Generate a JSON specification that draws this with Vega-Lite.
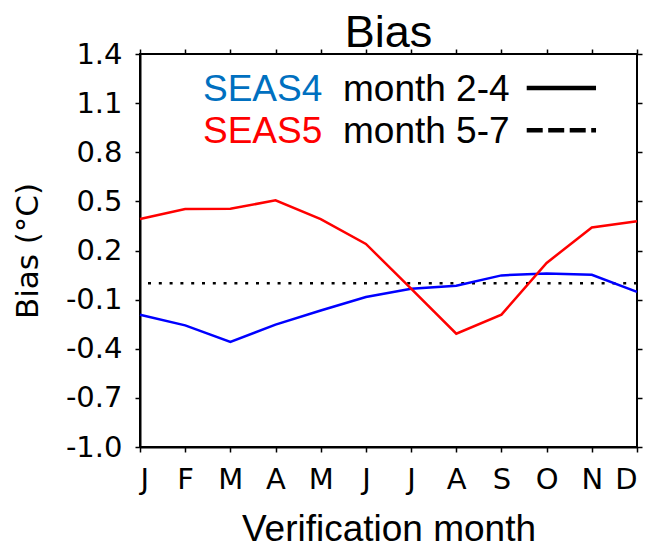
{
  "$schema": "https://vega.github.io/schema/vega-lite/v6.json",
  "width": 497,
  "height": 393,
  "autosize": {"type": "none"},
  "padding": {"left": 140, "top": 54, "right": 14, "bottom": 101},
  "background": "white",
  "title": {
    "text": "Bias",
    "font": "Liberation Sans",
    "fontSize": 45,
    "fontWeight": "normal",
    "color": "black",
    "anchor": "middle",
    "baseline": "alphabetic",
    "offset": 0,
    "dy": 52
  },
  "config": {
    "view": {"stroke": "black", "strokeWidth": 2},
    "axis": {
      "grid": false,
      "domainColor": "black",
      "domainWidth": 2,
      "tickColor": "black",
      "tickSize": 5,
      "tickWidth": 1.5,
      "labelFont": "DejaVu Sans",
      "labelFontSize": 29,
      "labelColor": "black",
      "titleColor": "black",
      "titleFontWeight": "normal"
    }
  },
  "datasets": {
    "bias": [
      {"m": 1, "model": "SEAS4", "bias": -0.192},
      {"m": 2, "model": "SEAS4", "bias": -0.257},
      {"m": 3, "model": "SEAS4", "bias": -0.359},
      {"m": 4, "model": "SEAS4", "bias": -0.253},
      {"m": 5, "model": "SEAS4", "bias": -0.166},
      {"m": 6, "model": "SEAS4", "bias": -0.084},
      {"m": 7, "model": "SEAS4", "bias": -0.034},
      {"m": 8, "model": "SEAS4", "bias": -0.015},
      {"m": 9, "model": "SEAS4", "bias": 0.048},
      {"m": 10, "model": "SEAS4", "bias": 0.060},
      {"m": 11, "model": "SEAS4", "bias": 0.052},
      {"m": 12, "model": "SEAS4", "bias": -0.053},
      {"m": 1, "model": "SEAS5", "bias": 0.392},
      {"m": 2, "model": "SEAS5", "bias": 0.454},
      {"m": 3, "model": "SEAS5", "bias": 0.455},
      {"m": 4, "model": "SEAS5", "bias": 0.506},
      {"m": 5, "model": "SEAS5", "bias": 0.392},
      {"m": 6, "model": "SEAS5", "bias": 0.240},
      {"m": 7, "model": "SEAS5", "bias": -0.033},
      {"m": 8, "model": "SEAS5", "bias": -0.308},
      {"m": 9, "model": "SEAS5", "bias": -0.192},
      {"m": 10, "model": "SEAS5", "bias": 0.124},
      {"m": 11, "model": "SEAS5", "bias": 0.341},
      {"m": 12, "model": "SEAS5", "bias": 0.378}
    ],
    "key": [
      {"model": "SEAS4", "lead": "month 2-4"},
      {"model": "SEAS5", "lead": "month 5-7"}
    ]
  },
  "layer": [
    {
      "data": {"values": [{"level": 0}]},
      "mark": {"type": "rule", "color": "black", "strokeWidth": 2.5, "strokeDash": [3, 7.8]},
      "encoding": {
        "y": {"field": "level", "type": "quantitative", "axis": null}
      }
    },
    {
      "data": {"name": "bias"},
      "mark": {"type": "line", "strokeWidth": 2.5},
      "encoding": {
        "x": {
          "field": "m",
          "type": "quantitative",
          "scale": {"domain": [1, 12], "nice": false, "zero": false},
          "axis": {
            "values": [1, 2, 3, 4, 5, 6, 7, 8, 9, 10, 11, 12],
            "labelExpr": "['J','F','M','A','M','J','J','A','S','O','N','D'][datum.value - 1]",
            "labelPadding": 13,
            "title": "Verification month",
            "titleFont": "Liberation Sans",
            "titleFontSize": 37,
            "titleBaseline": "alphabetic",
            "titleY": 93
          }
        },
        "y": {
          "field": "bias",
          "type": "quantitative",
          "scale": {"domain": [-1.0, 1.4], "nice": false, "zero": false},
          "axis": {
            "values": [-1.0, -0.7, -0.4, -0.1, 0.2, 0.5, 0.8, 1.1, 1.4],
            "labelExpr": "replace(format(datum.value, '.1f'), '−', '-')",
            "labelPadding": 13,
            "title": "Bias (°C)",
            "titleFont": "DejaVu Sans",
            "titleFontSize": 31,
            "titleAngle": -90,
            "titleBaseline": "alphabetic",
            "titleX": -103
          }
        },
        "color": {
          "field": "model",
          "type": "nominal",
          "scale": {"domain": ["SEAS4", "SEAS5"], "range": ["#0000FF", "#FF0000"]},
          "legend": null
        }
      }
    },
    {
      "data": {"name": "bias"},
      "mark": {"type": "line", "opacity": 0},
      "encoding": {
        "x": {
          "field": "m",
          "type": "quantitative",
          "axis": {"orient": "top", "values": [1, 2, 3, 4, 5, 6, 7, 8, 9, 10, 11, 12], "labels": false, "title": null, "domain": false}
        },
        "y": {
          "field": "bias",
          "type": "quantitative",
          "axis": {"orient": "right", "values": [-1.0, -0.7, -0.4, -0.1, 0.2, 0.5, 0.8, 1.1, 1.4], "labels": false, "title": null, "domain": false}
        }
      }
    },
    {
      "data": {"name": "key"},
      "transform": [{"filter": "datum.model === 'SEAS4'"}],
      "mark": {"type": "text", "align": "left", "baseline": "alphabetic", "font": "Liberation Sans", "fontSize": 37, "color": "#0070C0"},
      "encoding": {
        "text": {"field": "model"},
        "x": {"datum": 2.394, "type": "quantitative", "axis": null},
        "y": {"datum": 1.111, "type": "quantitative", "axis": null}
      }
    },
    {
      "data": {"name": "key"},
      "transform": [{"filter": "datum.model === 'SEAS4'"}],
      "mark": {"type": "text", "align": "left", "baseline": "alphabetic", "font": "Liberation Sans", "fontSize": 37, "color": "black"},
      "encoding": {
        "text": {"field": "lead"},
        "x": {"datum": 5.493, "type": "quantitative", "axis": null},
        "y": {"datum": 1.111, "type": "quantitative", "axis": null}
      }
    },
    {
      "data": {"name": "key"},
      "transform": [{"filter": "datum.model === 'SEAS5'"}],
      "mark": {"type": "text", "align": "left", "baseline": "alphabetic", "font": "Liberation Sans", "fontSize": 37, "color": "#FF0000"},
      "encoding": {
        "text": {"field": "model"},
        "x": {"datum": 2.394, "type": "quantitative", "axis": null},
        "y": {"datum": 0.857, "type": "quantitative", "axis": null}
      }
    },
    {
      "data": {"name": "key"},
      "transform": [{"filter": "datum.model === 'SEAS5'"}],
      "mark": {"type": "text", "align": "left", "baseline": "alphabetic", "font": "Liberation Sans", "fontSize": 37, "color": "black"},
      "encoding": {
        "text": {"field": "lead"},
        "x": {"datum": 5.493, "type": "quantitative", "axis": null},
        "y": {"datum": 0.857, "type": "quantitative", "axis": null}
      }
    },
    {
      "data": {"name": "key"},
      "transform": [{"filter": "datum.model === 'SEAS4'"}],
      "mark": {"type": "rule", "color": "black", "strokeWidth": 4.5},
      "encoding": {
        "x": {"datum": 9.559, "type": "quantitative", "axis": null},
        "x2": {"datum": 11.093},
        "y": {"datum": 1.193, "type": "quantitative", "axis": null}
      }
    },
    {
      "data": {"name": "key"},
      "transform": [{"filter": "datum.model === 'SEAS5'"}],
      "mark": {"type": "rule", "color": "black", "strokeWidth": 4.5, "strokeDash": [16, 5.5]},
      "encoding": {
        "x": {"datum": 9.559, "type": "quantitative", "axis": null},
        "x2": {"datum": 11.093},
        "y": {"datum": 0.935, "type": "quantitative", "axis": null}
      }
    }
  ],
  "resolve": {"axis": {"x": "independent", "y": "independent"}}
}
